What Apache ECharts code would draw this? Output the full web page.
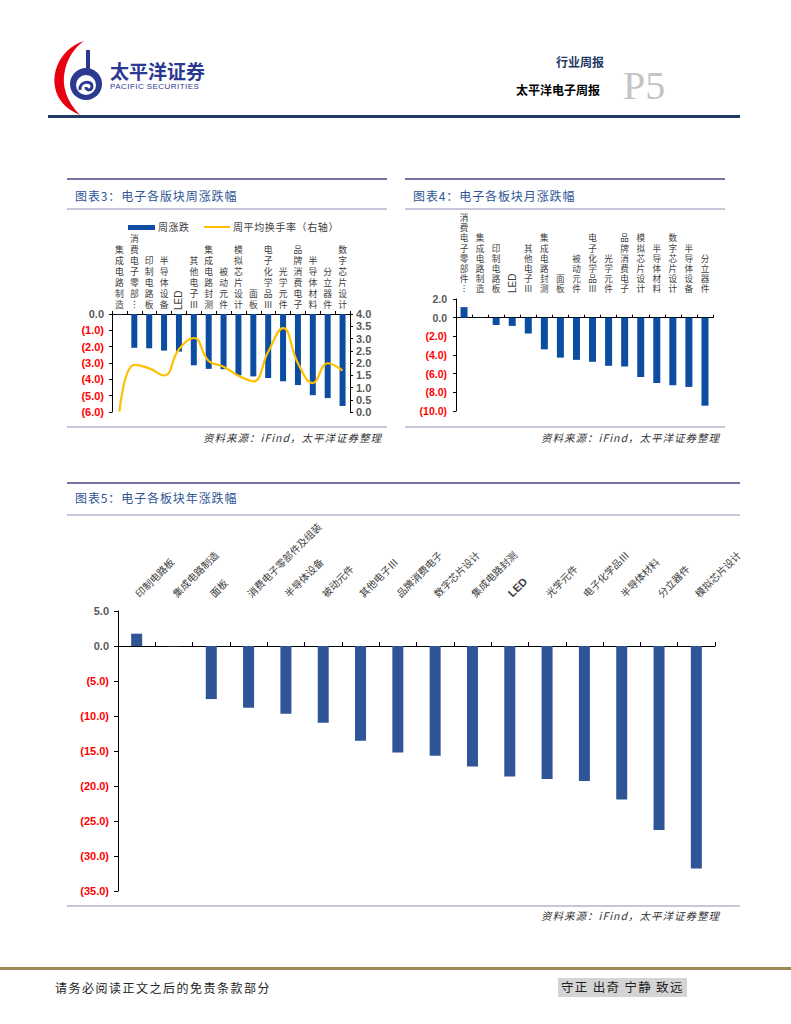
<!DOCTYPE html>
<html><head><meta charset="utf-8">
<script src="https://cdn.jsdelivr.net/npm/echarts@6/dist/echarts.min.js"></script>
<style>
html,body{margin:0;padding:0;background:#fff;}
body{width:791px;height:1024px;position:relative;overflow:hidden;font-family:"Noto Sans CJK SC","Noto Sans",sans-serif;}
.a{position:absolute;white-space:nowrap;line-height:1;}
.ln{position:absolute;}
.title{position:absolute;white-space:nowrap;font-size:12px;color:#2F5597;letter-spacing:0.9px;line-height:12px;}
.src{position:absolute;white-space:nowrap;font-size:10.5px;font-style:italic;color:#333;letter-spacing:1px;line-height:11px;}
.ch{position:absolute;}
</style></head><body>
<svg class="ln" style="left:0;top:0" width="220" height="125">
 <path d="M84 41 C58 49 46 80 61 101 C66 108 73 112 80 115 C67 102 61 86 65 70 C68 57 75 47 84 41 Z" fill="#E60012"/>
 <circle cx="86" cy="84" r="16" fill="#2B3990"/>
 <circle cx="86" cy="85" r="10" fill="#fff"/>
 <rect x="86" y="50" width="4" height="22" fill="#2B3990"/>
 <path d="M80 90 C79 81 92 80 92 86 C92 91 86 91 86 87" stroke="#2B3990" stroke-width="3" fill="none"/>
</svg>
<div class="a" style="left:110px;top:61px;font-size:19px;font-weight:bold;color:#2B3990;">太平洋证券</div>
<div class="a" style="left:110px;top:83px;font-size:8px;color:#2B3990;letter-spacing:0.45px;font-family:'Liberation Sans',sans-serif;">PACIFIC SECURITIES</div>
<div class="a" style="left:556px;top:56px;font-size:12px;font-weight:bold;color:#1F3864;">行业周报</div>
<div class="a" style="left:516px;top:84px;font-size:12px;font-weight:bold;color:#000;">太平洋电子周报</div>
<div class="a" style="left:623px;top:66px;font-size:40px;color:#c4c4c4;font-family:'Liberation Serif',serif;">P5</div>
<div class="ln" style="left:48px;top:115px;width:692px;height:3px;background:#1F3864"></div>

<!-- chart 3 frame -->
<div class="ln" style="left:67px;top:178px;width:320px;height:2px;background:#7373a3"></div>
<div class="title" style="left:75px;top:190px;">图表3：电子各版块周涨跌幅</div>
<div class="ln" style="left:67px;top:208px;width:320px;height:1.5px;background:#c6c6dc"></div>
<div class="ln" style="left:128px;top:225px;width:27px;height:5px;background:#0C4DA2"></div>
<div class="a" style="left:158px;top:222px;font-size:10px;color:#404040;letter-spacing:0.5px;">周涨跌</div>
<div class="ln" style="left:204px;top:226px;width:26px;height:2px;background:#FFC000"></div>
<div class="a" style="left:233px;top:222px;font-size:10px;color:#404040;letter-spacing:0.6px;">周平均换手率（右轴）</div>
<div class="ln" style="left:67px;top:426px;width:320px;height:2px;background:#c6c6dc"></div>
<div class="src" style="right:409px;top:432px;">资料来源：iFind，太平洋证券整理</div>

<!-- chart 4 frame -->
<div class="ln" style="left:405px;top:178px;width:320px;height:2px;background:#7373a3"></div>
<div class="title" style="left:413px;top:190px;">图表4：电子各板块月涨跌幅</div>
<div class="ln" style="left:405px;top:208px;width:320px;height:1.5px;background:#c6c6dc"></div>
<div class="ln" style="left:405px;top:426px;width:320px;height:2px;background:#c6c6dc"></div>
<div class="src" style="right:71px;top:432px;">资料来源：iFind，太平洋证券整理</div>

<!-- chart 5 frame -->
<div class="ln" style="left:67px;top:482px;width:673px;height:2px;background:#7373a3"></div>
<div class="title" style="left:75px;top:492px;">图表5：电子各板块年涨跌幅</div>
<div class="ln" style="left:67px;top:514px;width:673px;height:1.5px;background:#c6c6dc"></div>
<div class="ln" style="left:67px;top:905px;width:673px;height:2px;background:#c6c6dc"></div>
<div class="src" style="right:71px;top:910px;">资料来源：iFind，太平洋证券整理</div>

<!-- footer -->
<div class="ln" style="left:0;top:967px;width:791px;height:3px;background:#9C8B56"></div>
<div class="a" style="left:55px;top:982px;font-size:12px;color:#222;letter-spacing:1.5px;">请务必阅读正文之后的免责条款部分</div>
<div class="a" style="left:558px;top:978px;font-size:12.5px;color:#222;background:#d4d4d4;padding:3px 3px;letter-spacing:1.3px;">守正 出奇 宁静 致远</div>

<div id="c3" class="ch" style="left:67px;top:210px;width:320px;height:215px;"></div>
<div id="c4" class="ch" style="left:405px;top:210px;width:320px;height:215px;"></div>
<div id="c5" class="ch" style="left:67px;top:517px;width:705px;height:385px;"></div>

<script>
// ---- data ----
const cats3 = ['集成电路制造','消费电子零部件及组装','印制电路板','半导体设备','LED','其他电子Ⅲ','集成电路封测','被动元件','模拟芯片设计','面板','电子化学品Ⅲ','光学元件','品牌消费电子','半导体材料','分立器件','数字芯片设计'];
const weekChg = [-0.03,-2.07,-2.10,-2.24,-2.30,-3.14,-3.36,-3.38,-3.76,-3.82,-3.92,-4.12,-4.35,-4.97,-5.15,-5.63];
const turnover = [0.02,1.92,1.78,1.49,2.56,3.02,2.08,1.85,1.48,1.25,2.46,3.42,1.99,1.18,1.99,1.69];

const cats4 = ['消费电子零部件及组装','集成电路制造','印制电路板','LED','其他电子Ⅲ','集成电路封测','面板','被动元件','电子化学品Ⅲ','光学元件','品牌消费电子','模拟芯片设计','半导体材料','数字芯片设计','半导体设备','分立器件'];
const monthChg = [1.13,-0.03,-0.78,-0.88,-1.70,-3.39,-4.28,-4.52,-4.73,-5.16,-5.23,-6.36,-7.00,-7.24,-7.42,-9.43];

const cats5 = ['印制电路板','集成电路制造','面板','消费电子零部件及组装','半导体设备','被动元件','其他电子Ⅲ','品牌消费电子','数字芯片设计','集成电路封测','LED','光学元件','电子化学品Ⅲ','半导体材料','分立器件','模拟芯片设计'];
const yearChg = [1.76,-0.05,-7.58,-8.82,-9.68,-10.97,-13.54,-15.21,-15.69,-17.20,-18.64,-19.00,-19.27,-21.94,-26.30,-31.80];

// ---- helpers ----
const NUMF = '"Liberation Sans", Arial, sans-serif';
const CJK = '"Noto Sans CJK SC", sans-serif';
function numFmt(v){ if (Math.abs(v)<1e-9) return '{g|0.0}'; return v<0 ? '{r|('+(-v).toFixed(1)+')}' : '{g|'+v.toFixed(1)+'}'; }
function numRich(fs){ return { r:{color:'#FF0000',fontWeight:'bold',fontSize:fs,fontFamily:NUMF}, g:{color:'#595959',fontWeight:'bold',fontSize:fs,fontFamily:NUMF} }; }
function stack(n){ return v => { let c=Array.from(v); if (c.length>n) c=c.slice(0,n).concat(['︙']); return c.join('\n'); }; }
const isLED = (i, v) => v === 'LED';
const notLED = (i, v) => v !== 'LED';
const blackLine = {color:'#000', width:1};

// ---- chart 3 ----
const ch3 = echarts.init(document.getElementById('c3'), null, {renderer:'svg'});
ch3.setOption({
  animation:false,
  grid:{left:45, top:104, width:238, height:98, outerBoundsMode:'none'},
  xAxis:[
    {type:'category', data:cats3, position:'top',
     axisLine:{show:true, onZero:false, lineStyle:blackLine},
     axisTick:{show:true, interval:0, length:3, lineStyle:blackLine},
     axisLabel:{interval:notLED, margin:4, fontSize:8.8, lineHeight:11, verticalAlign:'bottom', color:'#404040', fontFamily:CJK, formatter:stack(6)}},
    {type:'category', data:cats3, position:'top',
     axisLine:{show:false, onZero:false}, axisTick:{show:false},
     axisLabel:{interval:isLED, rotate:-90, margin:4, fontSize:10, color:'#404040', fontFamily:NUMF}}
  ],
  yAxis:[
    {type:'value', min:-6, max:0, interval:1, position:'left',
     axisLine:{show:true, lineStyle:blackLine}, axisTick:{show:true, length:3, lineStyle:blackLine},
     splitLine:{show:false}, axisLabel:{margin:8, formatter:numFmt, rich:numRich(11)}},
    {type:'value', min:0, max:4, interval:0.5, position:'right',
     axisLine:{show:true, lineStyle:blackLine}, axisTick:{show:true, length:3, lineStyle:blackLine},
     splitLine:{show:false}, axisLabel:{margin:6, formatter:v=>'{g|'+v.toFixed(1)+'}', rich:numRich(11)}}
  ],
  series:[
    {type:'bar', name:'周涨跌', data:weekChg, xAxisIndex:0, yAxisIndex:0, barWidth:6, itemStyle:{color:'#0C4DA2'}},
    {type:'line', name:'周平均换手率（右轴）', data:turnover, xAxisIndex:0, yAxisIndex:1, smooth:0.45, showSymbol:false, lineStyle:{color:'#FFC000', width:2.2}}
  ]
});

// ---- chart 4 ----
const ch4 = echarts.init(document.getElementById('c4'), null, {renderer:'svg'});
ch4.setOption({
  animation:false,
  grid:{left:51, top:89, width:257, height:112, outerBoundsMode:'none'},
  xAxis:[
    {type:'category', data:cats4, position:'top',
     axisLine:{show:false, onZero:false}, axisTick:{show:false},
     axisLabel:{interval:notLED, margin:6, fontSize:8.6, lineHeight:10.1, verticalAlign:'bottom', color:'#404040', fontFamily:CJK, formatter:stack(7)}},
    {type:'category', data:cats4, position:'top',
     axisLine:{show:false, onZero:false}, axisTick:{show:false},
     axisLabel:{interval:isLED, rotate:-90, margin:6, fontSize:10, color:'#404040', fontFamily:NUMF}},
    {type:'category', data:cats4, position:'bottom',
     axisLine:{show:true, onZero:true, onZeroAxisIndex:0, lineStyle:blackLine},
     axisTick:{show:true, interval:0, inside:true, length:3, lineStyle:blackLine}, axisLabel:{show:false}}
  ],
  yAxis:[
    {type:'value', min:-10, max:2, interval:2, position:'left',
     axisLine:{show:true, lineStyle:blackLine}, axisTick:{show:true, length:3, lineStyle:blackLine},
     splitLine:{show:false}, axisLabel:{margin:9, formatter:numFmt, rich:numRich(10.5)}}
  ],
  series:[
    {type:'bar', name:'月涨跌', data:monthChg, xAxisIndex:0, yAxisIndex:0, barWidth:7, itemStyle:{color:'#0C4DA2'}}
  ]
});

// ---- chart 5 ----
const ch5 = echarts.init(document.getElementById('c5'), null, {renderer:'svg'});
ch5.setOption({
  animation:false,
  grid:{left:51, top:94, width:597, height:280, outerBoundsMode:'none'},
  xAxis:[
    {type:'category', data:cats5, position:'top',
     axisLine:{show:false, onZero:false}, axisTick:{show:false},
     axisLabel:{interval:0, rotate:-45, margin:16, fontSize:10, color:'#404040', fontFamily:CJK,
       formatter:v=>v==='LED'?'{b|LED}':v,
       rich:{b:{fontWeight:'bold', fontSize:11, fontFamily:NUMF, color:'#404040'}}}},
    {type:'category', data:cats5, position:'bottom',
     axisLine:{show:true, onZero:true, onZeroAxisIndex:0, lineStyle:blackLine},
     axisTick:{show:true, interval:0, inside:true, length:4, lineStyle:blackLine}, axisLabel:{show:false}}
  ],
  yAxis:[
    {type:'value', min:-35, max:5, interval:5, position:'left',
     axisLine:{show:true, lineStyle:blackLine}, axisTick:{show:true, length:4, lineStyle:blackLine},
     splitLine:{show:false}, axisLabel:{margin:9, formatter:numFmt, rich:numRich(11)}}
  ],
  series:[
    {type:'bar', name:'年涨跌', data:yearChg, xAxisIndex:0, yAxisIndex:0, barWidth:11, itemStyle:{color:'#2F5597'}}
  ]
});
</script>
</body></html>
